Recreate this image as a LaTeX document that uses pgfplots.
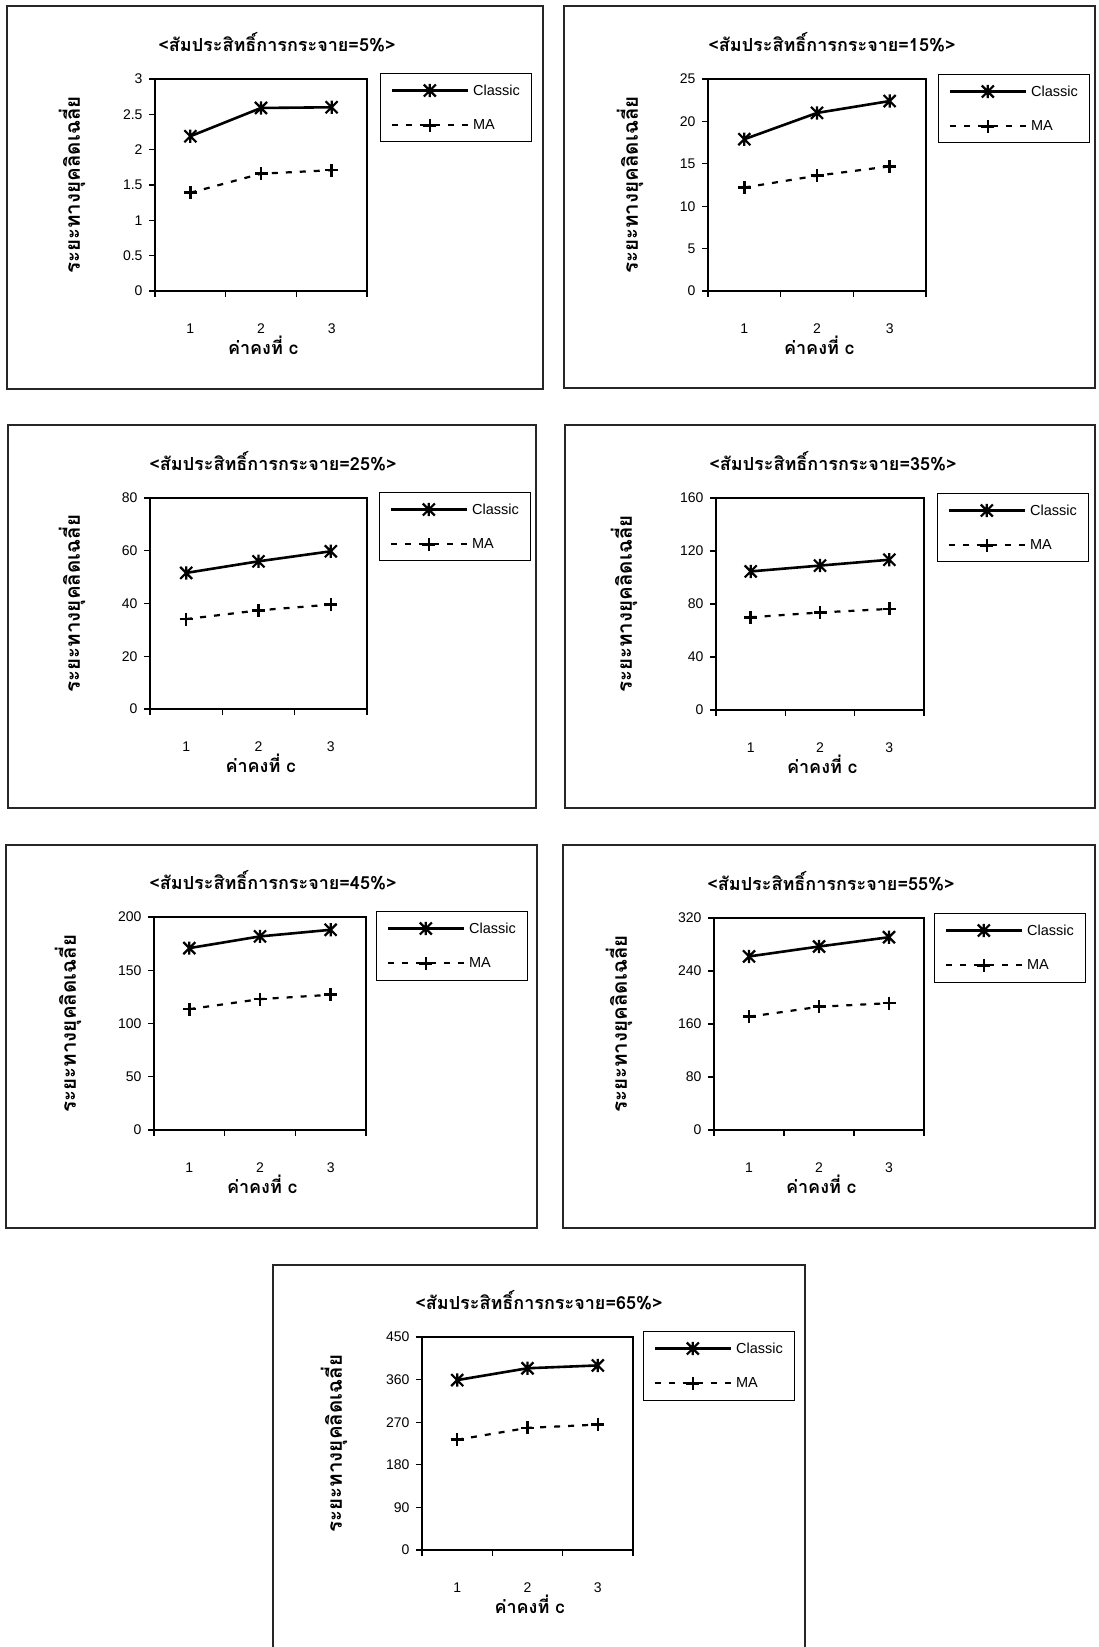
\documentclass[border=0pt]{standalone}
\usepackage{fontspec}
\setmainfont{Liberation Sans}
\newfontfamily\thai[Script=Thai]{Loma}
\usepackage{pgfplots}
\pgfplotsset{compat=1.18}

\pgfdeclareplotmark{xstar}{%
  \pgfpathmoveto{\pgfqpoint{-\pgfplotmarksize}{-\pgfplotmarksize}}%
  \pgfpathlineto{\pgfqpoint{\pgfplotmarksize}{\pgfplotmarksize}}%
  \pgfpathmoveto{\pgfqpoint{-\pgfplotmarksize}{\pgfplotmarksize}}%
  \pgfpathlineto{\pgfqpoint{\pgfplotmarksize}{-\pgfplotmarksize}}%
  \pgfpathmoveto{\pgfqpoint{0pt}{-1.1\pgfplotmarksize}}%
  \pgfpathlineto{\pgfqpoint{0pt}{1.1\pgfplotmarksize}}%
  \pgfusepathqstroke}

\newcommand\thaifs{\thai\bfseries\fontsize{18}{20}\selectfont}
\newcommand\thaify{\thai\bfseries\fontsize{20.5}{22}\selectfont}

\pgfplotsset{
  panel/.style={
    scale only axis,
    anchor=south west,
    xmin=0.5, xmax=3.5, ymin=0,
    axis line style={line width=2pt, black},
    tick align=outside,
    tick pos=left,
    major tick length=6pt,
    every tick/.style={line width=1.2pt, black},
    xtick={0.5,1.5,2.5,3.5}, xticklabels={},
    extra x ticks={1,2,3}, extra x tick labels={1,2,3},
    extra x tick style={major tick length=0pt},
    xticklabel style={anchor=center, yshift=-38pt},
    yticklabel style={xshift=-3pt},
    tick label style={font=\fontsize{14}{16}\selectfont},
    /pgf/number format/assume math mode=true,
    /pgf/number format/fixed,
    title style={at={(axis description cs:0.5,1)}, anchor=center, yshift=31pt, font=\thaifs},
    xlabel={ค่าคงที่ c},
    xlabel style={at={(axis description cs:0.5,0)}, anchor=center, xshift=2pt, yshift=-54pt, font=\thaifs},
    ylabel={ระยะทางยุคลิดเฉลี่ย},
    ylabel style={at={(axis description cs:0,0.5)}, anchor=center, font=\thaify},
    legend style={at={(axis description cs:1,1)}, anchor=north west, draw=black, line width=1pt,
      font=\fontsize{14.5}{16}\selectfont, inner xsep=10pt, inner ysep=9pt,
      nodes={inner sep=2pt}, /tikz/column sep=2pt, row sep=19pt},
    legend cell align=left,
    legend image code/.code={\draw[mark repeat=2,mark phase=2,##1] plot coordinates {(0pt,0pt) (38pt,0pt) (76pt,0pt)};},
  },
  classic/.style={black, line width=2.6pt, mark=xstar, mark size=6pt, mark options={line width=2.2pt, solid}},
  ma/.style={black, line width=2.2pt, dash pattern=on 6pt off 8pt, mark=+, mark size=6.5pt, mark options={line width=2.6pt, solid}},
}

\begin{document}
\begin{tikzpicture}
\path[use as bounding box] (0pt,0pt) rectangle (1098pt,-1647pt);
\fill[white] (0pt,0pt) rectangle (1098pt,-1647pt);

% outer frames
\draw[line width=1.8pt, black!85] (7pt,-6pt) rectangle (543pt,-389pt);
\draw[line width=1.8pt, black!85] (564pt,-6pt) rectangle (1095pt,-388pt);
\draw[line width=1.8pt, black!85] (8pt,-425pt) rectangle (536pt,-808pt);
\draw[line width=1.8pt, black!85] (565pt,-425pt) rectangle (1095pt,-808pt);
\draw[line width=1.8pt, black!85] (6pt,-845pt) rectangle (537pt,-1228pt);
\draw[line width=1.8pt, black!85] (563pt,-845pt) rectangle (1095pt,-1228pt);
\draw[line width=1.8pt, black!85] (273pt,-1660pt) -- (273pt,-1265pt) -- (805pt,-1265pt) -- (805pt,-1660pt);

% 5%
\begin{axis}[panel, at={(155pt,-291pt)}, width=212pt, height=212pt,
  ymax=3, ytick distance=0.5,
  title={<สัมประสิทธิ์การกระจาย=5\%>}, title style={xshift=16pt},
  ylabel style={yshift=83pt},
  legend style={xshift=13pt, yshift=6pt}]
\addplot[classic] coordinates {(1,2.19) (2,2.59) (3,2.60)};
\addplot[ma] coordinates {(1,1.39) (2,1.66) (3,1.71)};
\legend{Classic,MA}
\end{axis}

% 15%
\begin{axis}[panel, at={(708pt,-291pt)}, width=218pt, height=212pt,
  ymax=25, ytick distance=5,
  title={<สัมประสิทธิ์การกระจาย=15\%>}, title style={xshift=15pt},
  ylabel style={yshift=78pt},
  legend style={xshift=12pt, yshift=5pt}]
\addplot[classic] coordinates {(1,17.9) (2,21.0) (3,22.4)};
\addplot[ma] coordinates {(1,12.2) (2,13.6) (3,14.7)};
\legend{Classic,MA}
\end{axis}

% 25%
\begin{axis}[panel, at={(150pt,-709pt)}, width=217pt, height=211pt,
  ymax=80, ytick distance=20,
  title={<สัมประสิทธิ์การกระจาย=25\%>}, title style={xshift=14.5pt},
  ylabel style={yshift=78pt},
  legend style={xshift=12pt, yshift=6pt}]
\addplot[classic] coordinates {(1,51.6) (2,56.0) (3,59.8)};
\addplot[ma] coordinates {(1,34.1) (2,37.4) (3,39.6)};
\legend{Classic,MA}
\end{axis}

% 35%
\begin{axis}[panel, at={(716pt,-710pt)}, width=208pt, height=212pt,
  ymax=160, ytick distance=40,
  title={<สัมประสิทธิ์การกระจาย=35\%>}, title style={xshift=13pt},
  ylabel style={yshift=92pt},
  legend style={xshift=13pt, yshift=5pt}]
\addplot[classic] coordinates {(1,104.6) (2,109.0) (3,113.4)};
\addplot[ma] coordinates {(1,70.0) (2,73.6) (3,76.3)};
\legend{Classic,MA}
\end{axis}

% 45%
\begin{axis}[panel, at={(154pt,-1130pt)}, width=212pt, height=213pt,
  ymax=200, ytick distance=50,
  title={<สัมประสิทธิ์การกระจาย=45\%>}, title style={xshift=13pt},
  ylabel style={yshift=86pt},
  legend style={xshift=10pt, yshift=6pt}]
\addplot[classic] coordinates {(1,170.8) (2,181.8) (3,188.0)};
\addplot[ma] coordinates {(1,113.5) (2,122.9) (3,127.0)};
\legend{Classic,MA}
\end{axis}

% 55%
\begin{axis}[panel, at={(714pt,-1130pt)}, width=210pt, height=212pt,
  ymax=320, ytick distance=80,
  title={<สัมประสิทธิ์การกระจาย=55\%>}, title style={xshift=12pt},
  ylabel style={yshift=95pt},
  legend style={xshift=10pt, yshift=5pt}]
\addplot[classic] coordinates {(1,262) (2,277) (3,291)};
\addplot[ma] coordinates {(1,171) (2,186) (3,191.5)};
\legend{Classic,MA}
\end{axis}

% 65%
\begin{axis}[panel, at={(422pt,-1550pt)}, width=211pt, height=213pt,
  ymax=450, ytick distance=90,
  title={<สัมประสิทธิ์การกระจาย=65\%>}, title style={xshift=11.5pt},
  ylabel style={yshift=88pt},
  legend style={xshift=10pt, yshift=6pt}]
\addplot[classic] coordinates {(1,359) (2,384) (3,390)};
\addplot[ma] coordinates {(1,233) (2,258) (3,265)};
\legend{Classic,MA}
\end{axis}
\end{tikzpicture}
\end{document}
